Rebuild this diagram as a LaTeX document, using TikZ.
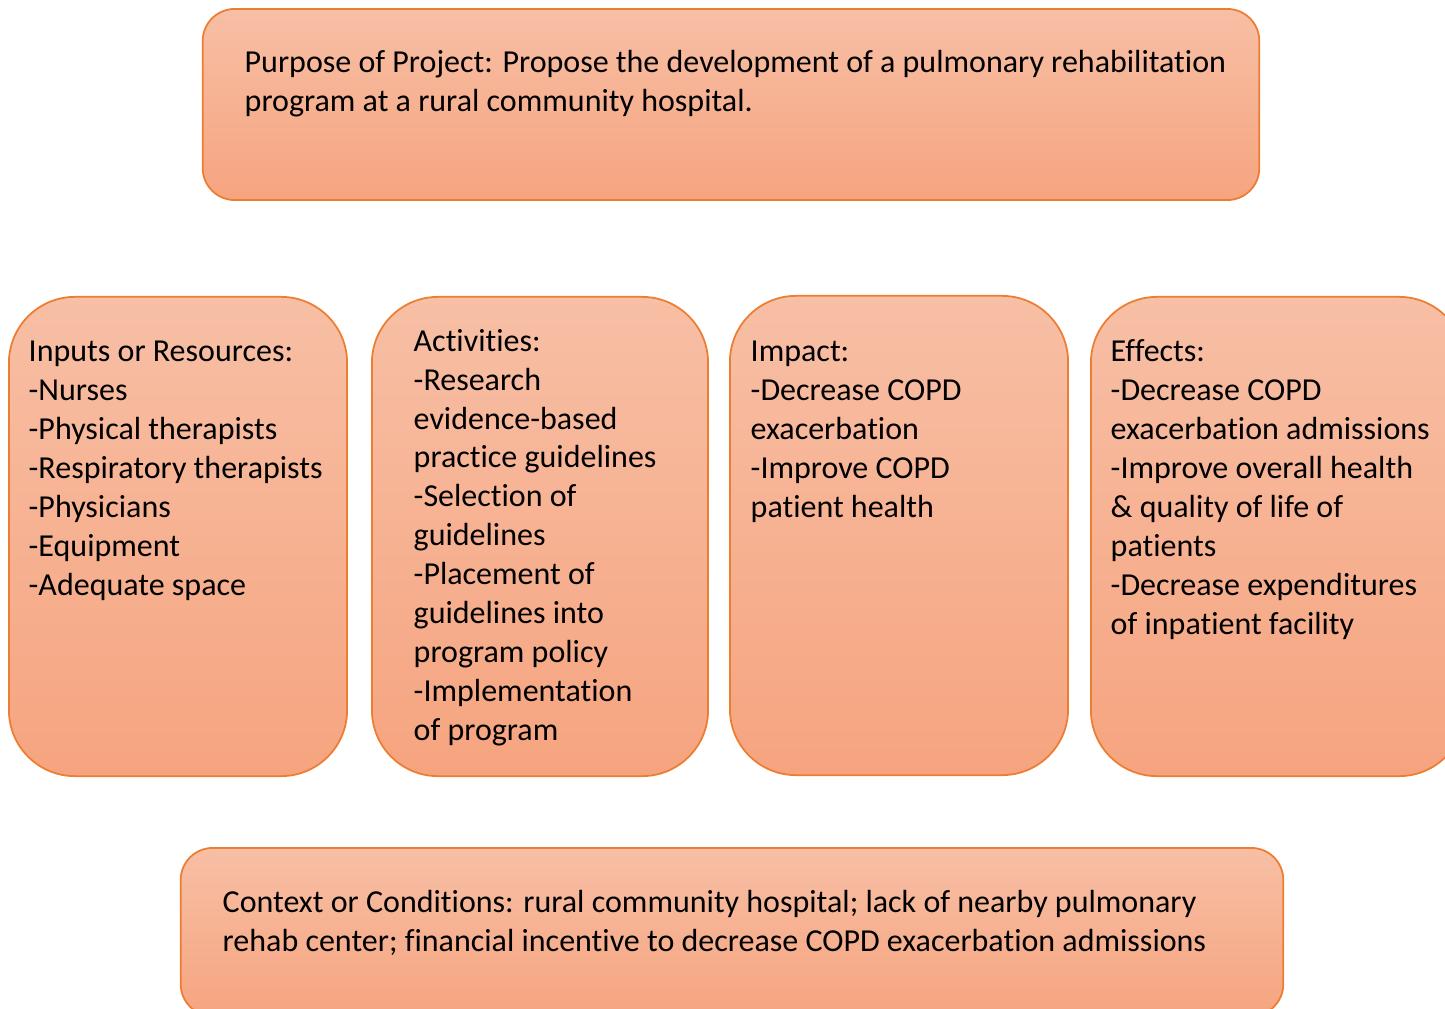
\documentclass[tikz,border=0pt]{standalone}
\usepackage{fontspec}
\setmainfont[Ligatures={NoCommon}]{Carlito}
\usepackage{tikz}
\usetikzlibrary{calc}
\definecolor{boxtop}{HTML}{F7BFA5}
\definecolor{boxbot}{HTML}{F6A47F}
\definecolor{boxline}{HTML}{ED7D31}

\begin{document}
\begin{tikzpicture}[x=0.01cm,y=-0.01cm,
  box/.style={rounded corners=#1,draw=boxline,line width=0.5pt,top color=boxtop,bottom color=boxbot,inner sep=0pt},
  txt/.style={anchor=base west,align=left,inner sep=0pt,font=\fontsize{9.1}{11.05}\selectfont}]
\useasboundingbox (0,0) rectangle (1445,1009);
\node [box=0.32cm,minimum width=10.56cm,minimum height=1.91cm] (purpose) at (731,104.5) {};
\node [box=0.66cm,minimum width=3.38cm,minimum height=4.79cm] (inputs) at (178,536.5) {};
\node [box=0.66cm,minimum width=3.36cm,minimum height=4.79cm] (activities) at (540,536.5) {};
\node [box=0.66cm,minimum width=3.38cm,minimum height=4.79cm] (impact) at (899,535.5) {};
\node [box=0.66cm,minimum width=3.74cm,minimum height=4.79cm] (effects) at (1278,536.5) {};
\node [box=0.32cm,minimum width=11.02cm,minimum height=1.68cm] (context) at (732,932) {};

\node [txt] (purposetxt) at (244,111) {Purpose of Project: Propose the development of a pulmonary rehabilitation\\program at a rural community hospital.};
\node [txt] (inputstxt) at (28,595) {Inputs or Resources:\\-Nurses\\-Physical therapists\\-Respiratory therapists\\-Physicians\\-Equipment\\-Adequate space};
\node [txt] (activitiestxt) at (413,740) {Activities:\\-Research\\evidence-based\\practice guidelines\\-Selection of\\guidelines\\-Placement of\\guidelines into\\program policy\\-Implementation\\of program};
\node [txt] (impacttxt) at (750,517) {Impact:\\-Decrease COPD\\exacerbation\\-Improve COPD\\patient health};
\node [txt] (effectstxt) at (1110,634) {Effects:\\-Decrease COPD\\exacerbation admissions\\-Improve overall health\\\& quality of life of\\patients\\-Decrease expenditures\\of inpatient facility};
\node [txt] (contexttxt) at (222,951) {Context or Conditions: rural community hospital; lack of nearby pulmonary\\rehab center; financial incentive to decrease COPD exacerbation admissions};
\end{tikzpicture}
\end{document}
